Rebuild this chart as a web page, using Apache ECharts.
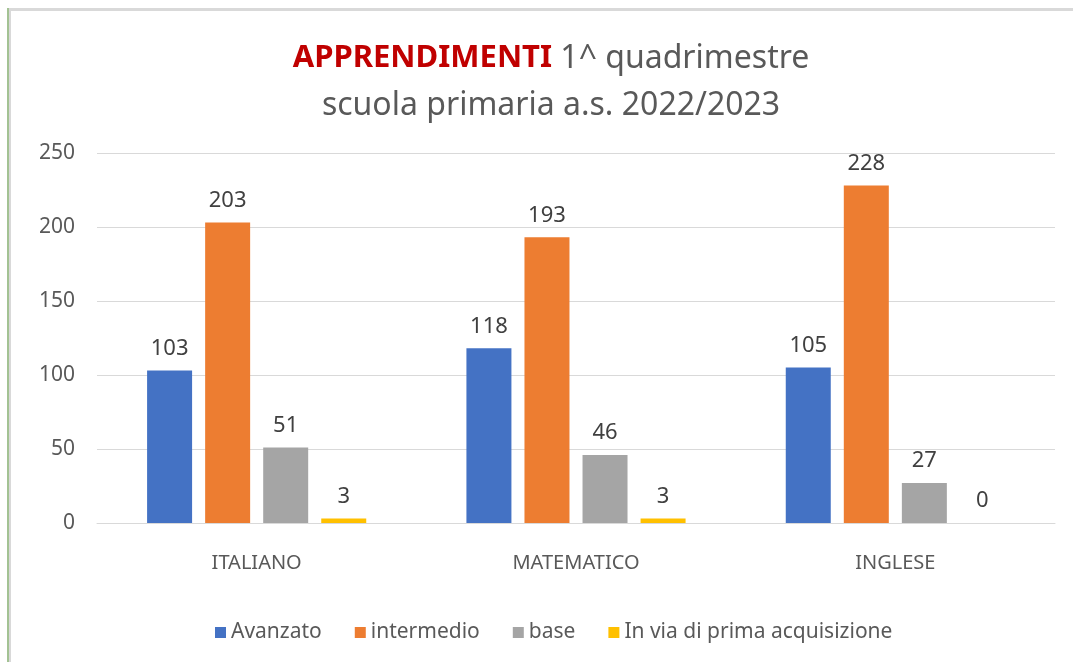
<!DOCTYPE html>
<html>
<head>
<meta charset="utf-8">
<title>Apprendimenti</title>
<script src="https://cdn.jsdelivr.net/npm/echarts@6/dist/echarts.min.js"></script>
<style>
  html, body { margin: 0; padding: 0; background: #fff; }
  #chart { width: 1073px; height: 662px; }
</style>
</head>
<body>
<div id="chart"></div>
<script>
// dati
const materie = ['ITALIANO', 'MATEMATICO', 'INGLESE'];
const avanzato = [103, 118, 105];
const intermedio = [203, 193, 228];
const base = [51, 46, 27];
const inVia = [3, 3, 0];
const yTicks = [0, 50, 100, 150, 200, 250];

const font = '"Noto Sans", "Open Sans", sans-serif';

const chart = echarts.init(document.getElementById('chart'));

function serie(name, data, color) {
  return {
    name: name,
    type: 'bar',
    data: data,
    barWidth: 45,
    barGap: '29%',
    itemStyle: { color: color },
    label: {
      show: true,
      position: 'top',
      distance: 11,
      color: '#404040',
      fontFamily: font,
      fontSize: 22
    }
  };
}

const option = {
  backgroundColor: '#fff',
  animation: false,
  title: {
    left: 546,
    top: 30,
    textAlign: 'center',
    text: '{r|APPRENDIMENTI}{g| 1^ quadrimestre}\n{g|scuola primaria a.s. 2022/2023}',
    textStyle: {
      rich: {
        r: { color: '#c00000', fontWeight: 'bold', fontSize: 31, fontFamily: font, lineHeight: 47 },
        g: { color: '#595959', fontWeight: 'normal', fontSize: 32, fontFamily: font, lineHeight: 47 }
      }
    }
  },
  legend: {
    top: 617,
    left: 210,
    itemWidth: 11,
    itemHeight: 11,
    itemGap: 33,
    icon: 'rect',
    textStyle: { color: '#595959', fontSize: 21, fontFamily: font },
    data: ['Avanzato', 'intermedio', 'base', 'In via di prima acquisizione']
  },
  grid: {
    left: 97,
    right: 18,
    top: 153,
    bottom: 139
  },
  xAxis: {
    type: 'category',
    data: materie,
    axisTick: { show: false },
    axisLine: { lineStyle: { color: '#d9d9d9', width: 1 } },
    axisLabel: { color: '#595959', fontSize: 20, fontFamily: font, margin: 30 }
  },
  yAxis: {
    type: 'value',
    min: yTicks[0],
    max: yTicks[yTicks.length - 1],
    interval: 50,
    axisLine: { show: false },
    axisTick: { show: false },
    splitLine: { lineStyle: { color: '#d9d9d9', width: 1 } },
    axisLabel: { color: '#595959', fontSize: 21, fontFamily: font, margin: 22 }
  },
  graphic: [
    // cornice del grafico
    { type: 'rect', shape: { x: 7, y: 8, width: 1066, height: 3 }, style: { fill: '#d9d9d9' }, silent: true },
    { type: 'rect', shape: { x: 9, y: 8, width: 2, height: 654 }, style: { fill: '#d9d9d9' }, silent: true },
    { type: 'rect', shape: { x: 7, y: 8, width: 2, height: 654 }, style: { fill: '#a3c293' }, silent: true }
  ],
  series: [
    serie('Avanzato', avanzato, '#4472c4'),
    serie('intermedio', intermedio, '#ed7d31'),
    serie('base', base, '#a5a5a5'),
    serie('In via di prima acquisizione', inVia, '#ffc000')
  ]
};

chart.setOption(option);
</script>
</body>
</html>
